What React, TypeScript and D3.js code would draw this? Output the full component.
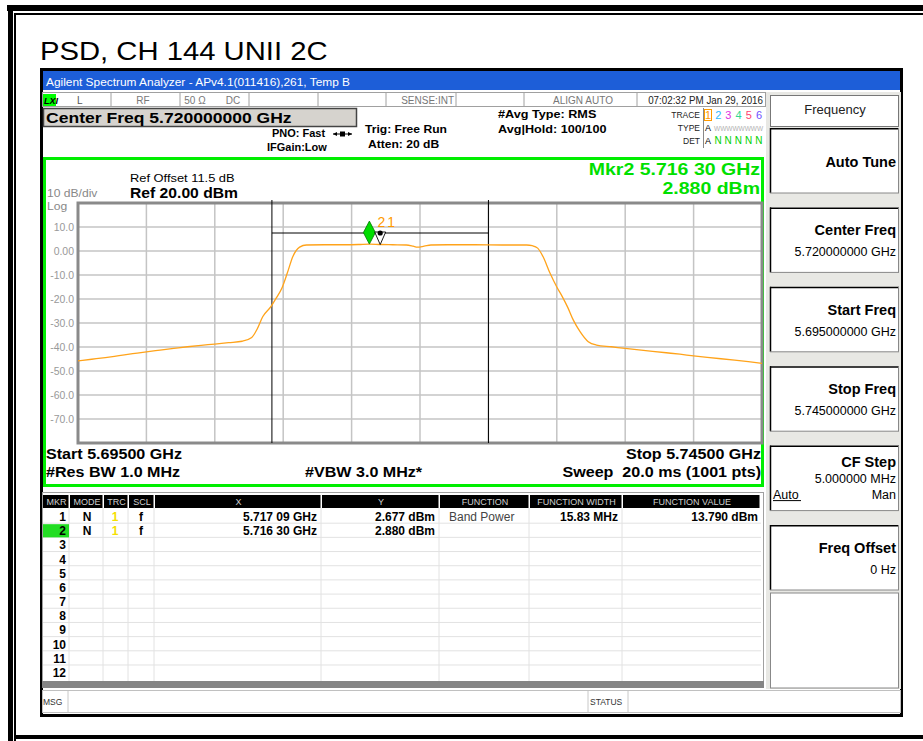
import React from 'react';
import * as d3 from 'd3';

const FONT = '"Liberation Sans", Arial, sans-serif';

// trace 1 (RMS average), frequency in GHz, level in dBm
const traceFreq = [
  5.695, 5.696, 5.697, 5.698, 5.699, 5.7, 5.701, 5.702, 5.703, 5.704, 5.705, 5.706, 5.707,
  5.7077, 5.7081, 5.7085, 5.7091, 5.7095, 5.7099, 5.7103, 5.7107, 5.7112, 5.7117,
  5.713, 5.7145, 5.7155, 5.7163, 5.7171, 5.718, 5.719, 5.7195, 5.7198, 5.7203, 5.7208,
  5.722, 5.724, 5.726, 5.7278, 5.7282, 5.7286, 5.729, 5.7295, 5.73, 5.7304, 5.7308,
  5.7312, 5.7317, 5.7323, 5.7329, 5.734, 5.735, 5.736, 5.737, 5.738, 5.739, 5.74,
  5.741, 5.742, 5.743, 5.744, 5.745,
];
const traceLevel = [
  -45.8, -45.1, -44.4, -43.6, -42.8, -42.0, -41.3, -40.6, -39.9, -39.3, -38.8, -38.2, -37.6,
  -36.0, -32.5, -27.4, -23.2, -19.5, -15.5, -9.2, -2.4, 1.6, 2.5,
  2.6, 2.6, 2.7, 2.9, 2.7, 2.6, 2.5, 2.0, 1.6, 2.0, 2.5,
  2.6, 2.6, 2.5, 2.5, 2.2, 1.2, -2.4, -9.2, -15.0, -19.0, -23.5,
  -28.7, -33.6, -37.8, -39.2, -39.9, -40.6, -41.2, -41.8, -42.4, -43.0, -43.7,
  -44.3, -44.9, -45.5, -46.1, -46.8,
];

const startFreq = 5.695;
const stopFreq = 5.745;
const refLevel = 20;
const dbPerDiv = 10;
const yTickValues = [10, 0, -10, -20, -30, -40, -50, -60, -70];
const yTickLabels = ['10.0', '0.00', '-10.0', '-20.0', '-30.0', '-40.0', '-50.0', '-60.0', '-70.0'];

const markerFreq = [5.71709, 5.7163];
const markerLevel = [2.677, 2.88];
const bandPowerWidth = 0.01583;
const bandLineLevel = 7.5;

const tableHeads = ['MKR', 'MODE', 'TRC', 'SCL', 'X', 'Y', 'FUNCTION', 'FUNCTION WIDTH', 'FUNCTION VALUE'];
const markerRows = [
  ['1', 'N', '1', 'f', '5.717 09 GHz', '2.677 dBm', 'Band Power', '15.83 MHz', '13.790 dBm'],
  ['2', 'N', '1', 'f', '5.716 30 GHz', '2.880 dBm', '', '', ''],
];
const rowNumbers = ['1', '2', '3', '4', '5', '6', '7', '8', '9', '10', '11', '12'];

const softkeyTitles = ['Auto Tune', 'Center Freq', 'Start Freq', 'Stop Freq', 'CF Step', 'Freq Offset'];
const softkeyValues = ['', '5.720000000 GHz', '5.695000000 GHz', '5.745000000 GHz', '5.000000 MHz', '0 Hz'];

const traceDigits = ['1', '2', '3', '4', '5', '6'];
const traceColors = ['#ff9a00', '#30b8ff', '#e030e0', '#30d890', '#ff4070', '#7050ff'];

const T = ({ x, y, size = 12, w = 'normal', fill = '#000', anchor = 'start', sx = 1, style = 'normal', children }: any) => (
  <text
    transform={`translate(${x},${y}) scale(${sx},1)`}
    fontSize={size}
    fontWeight={w}
    fontStyle={style}
    fill={fill}
    textAnchor={anchor}
    fontFamily={FONT}
  >
    {children}
  </text>
);

const App = () => {
  const x = d3.scaleLinear([startFreq, stopFreq], [78, 762]);
  const y = d3.scaleLinear([refLevel - 10 * dbPerDiv, refLevel], [443, 203]);
  const trace = traceFreq.map((f, i) => [f, traceLevel[i]] as [number, number]);
  const line = d3
    .line<[number, number]>()
    .x((d) => x(d[0]))
    .y((d) => y(d[1]))
    .curve(d3.curveMonotoneX);

  const xGrid = d3.range(11).map((i) => startFreq + ((stopFreq - startFreq) / 10) * i);
  const yGrid = d3.range(11).map((i) => refLevel - dbPerDiv * i);

  const bpLeft = x(markerFreq[0] - bandPowerWidth / 2);
  const bpRight = x(markerFreq[0] + bandPowerWidth / 2);
  const bpY = y(bandLineLevel);

  const m2x = x(markerFreq[1]);
  const m2y = y(markerLevel[1]);
  const m1x = x(markerFreq[0]);
  const m1y = y(markerLevel[0]);

  // table columns
  const colEdges = [43, 70, 104, 129, 155, 322, 440, 530, 623, 761];
  const rowPitch = 14.18;
  const rowTop = 509;

  const statusDividers = [111, 180, 249, 318, 386, 456, 524, 637];

  return (
    <svg width={923} height={741} style={{ position: 'absolute', left: 0, top: 0, background: '#fff' }}>
      {/* outer frame */}
      <rect x={7} y={5} width={916} height={6} fill="#000" />
      <rect x={8} y={5} width={5} height={736} fill="#000" />
      <rect x={14} y={13} width={909} height={2} fill="#000" />
      <rect x={14} y={13} width={2} height={728} fill="#000" />
      <rect x={14} y={735} width={909} height={4} fill="#000" />

      <T x={40} y={60} size={25} sx={1.17}>PSD, CH 144 UNII 2C</T>

      {/* instrument screen */}
      <rect x={41.5} y={69.5} width={860} height={646} fill="#fff" stroke="#000" strokeWidth={3} />
      <rect x={43} y={71} width={857} height={19} fill="#1d5ed8" />
      <text x={46} y={86} fontSize={11} fill="#fff" fontFamily={FONT} textLength={304} lengthAdjust="spacingAndGlyphs">
        Agilent Spectrum Analyzer - APv4.1(011416),261, Temp B
      </text>

      {/* status row */}
      <rect x={42.5} y={92.5} width={723} height={14} fill="#fff" stroke="#a0a0a0" />
      {statusDividers.map((d) => (
        <line key={d} x1={d} x2={d} y1={93} y2={106} stroke="#a0a0a0" />
      ))}
      <rect x={43} y={94} width={13} height={12} fill="#00ff00" />
      <T x={44} y={104} size={9} w="bold" style="italic">LXI</T>
      <T x={77} y={104} size={10} fill="#555">L</T>
      <T x={143} y={104} size={10} fill="#777" anchor="middle">RF</T>
      <T x={195} y={104} size={10} fill="#777" anchor="middle">50 Ω</T>
      <T x={233} y={104} size={10} fill="#777" anchor="middle">DC</T>
      <T x={454} y={104} size={10} fill="#777" anchor="end">SENSE:INT</T>
      <T x={583} y={104} size={10} fill="#777" anchor="middle">ALIGN AUTO</T>
      <T x={763} y={104} size={10} fill="#222" anchor="end" sx={0.98}>07:02:32 PM Jan 29, 2016</T>

      {/* center freq box */}
      <rect x={43.5} y={108.5} width={313} height={18} fill="#d6d3ce" stroke="#444" strokeWidth={1.5} />
      <T x={46} y={123} size={15} w="bold" sx={1.17}>Center Freq 5.720000000 GHz</T>
      <T x={272} y={137} size={10} w="bold" sx={1.1}>PNO: Fast</T>
      <line x1={333} x2={352} y1={134} y2={134} stroke="#000" />
      <path d="M333,134 l4,-2 v4 z M352,134 l-4,-2 v4 z M340,131.5 h5 v5 h-5 z" fill="#000" />
      <T x={267} y={151} size={10} w="bold" sx={1.1}>IFGain:Low</T>
      <T x={365} y={133} size={11} w="bold" sx={1.1}>Trig: Free Run</T>
      <T x={368} y={148} size={11} w="bold" sx={1.1}>Atten: 20 dB</T>
      <T x={498} y={118} size={11} w="bold" sx={1.15}>#Avg Type: RMS</T>
      <T x={498} y={133} size={11} w="bold" sx={1.15}>Avg|Hold: 100/100</T>

      {/* trace info */}
      <T x={700} y={118} size={8.5} fill="#222" anchor="end">TRACE</T>
      <T x={700} y={131} size={8.5} fill="#222" anchor="end">TYPE</T>
      <T x={700} y={144} size={8.5} fill="#222" anchor="end">DET</T>
      <rect x={703} y={108} width={62} height={40} fill="#fff" />
      <line x1={703.5} x2={703.5} y1={108} y2={148} stroke="#888" />
      <rect x={704.5} y={109.5} width={7} height={11} fill="none" stroke="#ff9a00" />
      {traceDigits.map((d, i) => (
        <T key={d} x={708 + i * 10.2} y={119} size={11} fill={traceColors[i]} anchor="middle">{d}</T>
      ))}
      <T x={705} y={131} size={9}>A</T>
      <text x={714} y={131} fontSize={8} fill="#b0b0b0" fontFamily={FONT} textLength={49} lengthAdjust="spacingAndGlyphs">WWWWWWWW</text>
      <T x={705} y={144} size={9}>A</T>
      {traceDigits.slice(1).map((d, i) => (
        <T key={d} x={718 + i * 10.2} y={144} size={10} fill="#00d000" anchor="middle">N</T>
      ))}

      {/* graph window */}
      <rect x={44.5} y={158.5} width={718} height={327} fill="#fff" stroke="#00ee00" strokeWidth={3} />
      <T x={760} y={175} size={16} w="bold" fill="#00e000" anchor="end" sx={1.22}>Mkr2 5.716 30 GHz</T>
      <T x={760} y={194} size={16} w="bold" fill="#00e000" anchor="end" sx={1.22}>2.880 dBm</T>
      <T x={130} y={182} size={11.5} sx={1.12}>Ref Offset 11.5 dB</T>
      <T x={130} y={198} size={14} w="bold" sx={1.12}>Ref 20.00 dBm</T>
      <T x={47} y={197} size={11} fill="#888" sx={1.1}>10 dB/div</T>
      <T x={47} y={210} size={11} fill="#888" sx={1.1}>Log</T>

      {/* grid */}
      {xGrid.slice(1, -1).map((f) => (
        <line key={f} x1={x(f)} x2={x(f)} y1={y(refLevel)} y2={y(refLevel - 10 * dbPerDiv)} stroke="#c4c4c4" strokeWidth={1.5} />
      ))}
      {yGrid.slice(1, -1).map((v) => (
        <line key={v} x1={x(startFreq)} x2={x(stopFreq)} y1={y(v)} y2={y(v)} stroke="#c4c4c4" strokeWidth={1.5} />
      ))}
      <rect
        x={x(startFreq)}
        y={y(refLevel)}
        width={x(stopFreq) - x(startFreq)}
        height={y(refLevel - 10 * dbPerDiv) - y(refLevel)}
        fill="none"
        stroke="#8a8a8a"
        strokeWidth={3}
      />
      {yTickValues.map((v, i) => (
        <T key={v} x={74} y={y(v) + 4} size={11} fill="#999" anchor="end" sx={0.95}>{yTickLabels[i]}</T>
      ))}

      {/* band power lines */}
      <line x1={bpLeft} x2={bpLeft} y1={200} y2={y(-80)} stroke="#000" />
      <line x1={bpRight} x2={bpRight} y1={200} y2={y(-80)} stroke="#000" />
      <line x1={bpLeft} x2={bpRight} y1={bpY} y2={bpY} stroke="#000" />

      {/* trace */}
      <path d={line(trace) || ''} fill="none" stroke="#ffa31a" strokeWidth={1.3} />

      {/* markers */}
      <path
        d={`M${m2x},${m2y - 23} L${m2x + 6},${m2y - 11.5} L${m2x},${m2y} L${m2x - 6},${m2y - 11.5} Z`}
        fill="#00dd00"
        stroke="#007700"
        strokeWidth={0.8}
      />
      <T x={m2x + 8} y={m2y - 17} size={14} fill="#ff9a00">2</T>
      <path
        d={`M${m1x - 5.5},${bpY - 1} L${m1x + 5.5},${bpY - 1} L${m1x},${m1y} Z`}
        fill="#fff"
        stroke="#000"
        strokeWidth={0.9}
      />
      <circle cx={m1x} cy={bpY} r={2.6} fill="#000" />
      <T x={m1x + 7} y={m2y - 17} size={14} fill="#ff9a00">1</T>

      <T x={46} y={459} size={14} w="bold" sx={1.15}>Start 5.69500 GHz</T>
      <T x={46} y={477} size={14} w="bold" sx={1.15}>#Res BW 1.0 MHz</T>
      <T x={305} y={477} size={14} w="bold" sx={1.15}>#VBW 3.0 MHz*</T>
      <T x={761} y={459} size={14} w="bold" anchor="end" sx={1.15}>Stop 5.74500 GHz</T>
      <T x={761} y={477} size={14} w="bold" anchor="end" sx={1.15}>{'Sweep\u00a0\u00a020.0 ms (1001 pts)'}</T>

      {/* marker table */}
      <rect x={42.5} y={492.5} width={721} height={190} fill="#fff" stroke="#a0a0a0" />
      {tableHeads.map((h, i) => (
        <g key={h}>
          <rect x={colEdges[i]} y={495} width={colEdges[i + 1] - colEdges[i] - 1.5} height={13} fill="#000" />
          <T x={(colEdges[i] + colEdges[i + 1]) / 2} y={505} size={9} fill="#d0d0d0" anchor="middle">{h}</T>
        </g>
      ))}
      {rowNumbers.slice(1).map((r, i) => (
        <line key={r} x1={43} x2={761} y1={rowTop + (i + 1) * rowPitch} y2={rowTop + (i + 1) * rowPitch} stroke="#e2e2e2" />
      ))}
      {colEdges.slice(1, -1).map((c) => (
        <line key={c} x1={c - 1} x2={c - 1} y1={508} y2={681} stroke="#e2e2e2" />
      ))}
      <rect x={43} y={rowTop + rowPitch + 1} width={26} height={rowPitch - 1} fill="#22dd22" />
      {rowNumbers.map((r, i) => (
        <T key={r} x={66} y={rowTop + i * rowPitch + 12} size={12} w="bold" anchor="end">{r}</T>
      ))}
      {markerRows.map((row, i) => {
        const by = rowTop + i * rowPitch + 12;
        return (
          <g key={row[0]}>
            <T x={87} y={by} size={12} w="bold" anchor="middle">{row[1]}</T>
            <T x={115} y={by} size={12} w="bold" fill="#f5e000" anchor="middle">{row[2]}</T>
            <T x={141} y={by} size={12} w="bold" anchor="middle">{row[3]}</T>
            <T x={317} y={by} size={12} w="bold" anchor="end">{row[4]}</T>
            <T x={435} y={by} size={12} w="bold" anchor="end">{row[5]}</T>
            <T x={449} y={by} size={12} fill="#444">{row[6]}</T>
            <T x={618} y={by} size={12} w="bold" anchor="end">{row[7]}</T>
            <T x={758} y={by} size={12} w="bold" anchor="end">{row[8]}</T>
          </g>
        );
      })}
      <rect x={42} y={681} width={722} height={7} fill="#858585" />

      {/* softkey panel */}
      <rect x={766} y={92} width={135} height={597} fill="#e8e8e4" />
      <rect x={770.5} y={95.5} width={128} height={31} fill="#fff" stroke="#777" />
      <T x={835} y={114} size={13} anchor="middle" fill="#222">Frequency</T>
      {softkeyTitles.map((t, i) => {
        const top = 128 + i * 79.4;
        const cf = t === 'CF Step';
        return (
          <g key={t}>
            <rect x={770} y={top} width={129} height={65} fill="#fff" />
            <line x1={770.5} x2={770.5} y1={top} y2={top + 65} stroke="#000" strokeWidth={1.5} />
            <line x1={770} x2={899} y1={top + 0.75} y2={top + 0.75} stroke="#000" strokeWidth={1.5} />
            <line x1={898.5} x2={898.5} y1={top} y2={top + 65} stroke="#888" />
            <line x1={770} x2={899} y1={top + 65} y2={top + 65} stroke="#888" />
            <T x={896} y={top + (softkeyValues[i] ? (cf ? 21 : 28) : 39)} size={14.5} w="bold" anchor="end">{t}</T>
            {softkeyValues[i] && (
              <T x={896} y={top + (cf ? 37 : 49)} size={12.5} anchor="end">{softkeyValues[i]}</T>
            )}
            {cf && (
              <g>
                <T x={773} y={top + 53} size={12.5}>Auto</T>
                <line x1={773} x2={801} y1={top + 55} y2={top + 55} stroke="#000" />
                <T x={896} y={top + 53} size={12.5} anchor="end">Man</T>
              </g>
            )}
          </g>
        );
      })}
      <rect x={770.5} y={593} width={128} height={95} fill="#fff" stroke="#888" />

      {/* message row */}
      <rect x={42.5} y={690.5} width={858} height={22} fill="#fff" stroke="#c0c0c0" />
      <line x1={68} x2={68} y1={691} y2={712} stroke="#c8c8c8" />
      <line x1={588} x2={588} y1={691} y2={712} stroke="#c8c8c8" />
      <line x1={628} x2={628} y1={691} y2={712} stroke="#c8c8c8" />
      <T x={43} y={705} size={8.5} fill="#333">MSG</T>
      <T x={590} y={705} size={8.5} fill="#333">STATUS</T>
    </svg>
  );
};

export default App;
